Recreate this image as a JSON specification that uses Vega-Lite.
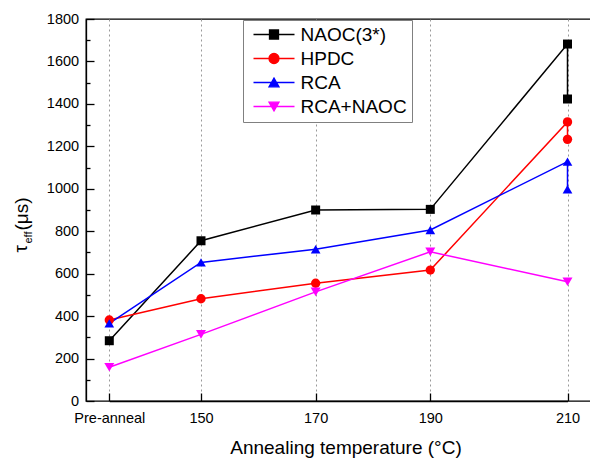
{
  "$schema": "https://vega.github.io/schema/vega-lite/v6.json",
  "autosize": "none",
  "padding": {"left": 86, "top": 19, "right": 0, "bottom": 63},
  "width": 505,
  "height": 382,
  "config": {
    "font": "Liberation Sans",
    "view": {"stroke": "#000", "strokeWidth": 1.3},
    "axis": {"labelFont": "Liberation Sans", "titleFont": "Liberation Sans", "labelColor": "#000", "titleColor": "#000", "titleFontWeight": "normal", "labelFontWeight": "normal"},
    "legend": {
      "title": null,
      "orient": "none",
      "legendX": 157,
      "legendY": 1,
      "strokeColor": "#808080",
      "fillColor": "#ffffff",
      "padding": 5,
      "labelFontSize": 19,
      "labelFont": "Liberation Sans",
      "labelColor": "#000",
      "labelOffset": 33.5,
      "rowPadding": 4,
      "symbolSize": 100,
      "symbolOpacity": 1,
      "symbolStrokeWidth": 1.3
    }
  },
  "data": {
    "values": [
      {"series": "NAOC(3*)", "stage": "Pre-anneal", "temp": 25, "tau": 284},
      {"series": "NAOC(3*)", "stage": "150", "temp": 150, "tau": 755},
      {"series": "NAOC(3*)", "stage": "170", "temp": 170, "tau": 900},
      {"series": "NAOC(3*)", "stage": "190", "temp": 190, "tau": 903},
      {"series": "NAOC(3*)", "stage": "210", "temp": 210, "tau": 1682},
      {"series": "NAOC(3*)", "stage": "210", "temp": 210, "tau": 1423},
      {"series": "HPDC", "stage": "Pre-anneal", "temp": 25, "tau": 382},
      {"series": "HPDC", "stage": "150", "temp": 150, "tau": 482},
      {"series": "HPDC", "stage": "170", "temp": 170, "tau": 555},
      {"series": "HPDC", "stage": "190", "temp": 190, "tau": 617},
      {"series": "HPDC", "stage": "210", "temp": 210, "tau": 1315},
      {"series": "HPDC", "stage": "210", "temp": 210, "tau": 1233},
      {"series": "RCA", "stage": "Pre-anneal", "temp": 25, "tau": 366},
      {"series": "RCA", "stage": "150", "temp": 150, "tau": 653},
      {"series": "RCA", "stage": "170", "temp": 170, "tau": 715},
      {"series": "RCA", "stage": "190", "temp": 190, "tau": 806},
      {"series": "RCA", "stage": "210", "temp": 210, "tau": 1128},
      {"series": "RCA", "stage": "210", "temp": 210, "tau": 998},
      {"series": "RCA+NAOC", "stage": "Pre-anneal", "temp": 25, "tau": 159},
      {"series": "RCA+NAOC", "stage": "150", "temp": 150, "tau": 314},
      {"series": "RCA+NAOC", "stage": "170", "temp": 170, "tau": 514},
      {"series": "RCA+NAOC", "stage": "190", "temp": 190, "tau": 703},
      {"series": "RCA+NAOC", "stage": "210", "temp": 210, "tau": 562}
    ]
  },
  "encoding": {
    "x": {
      "field": "temp",
      "type": "quantitative",
      "scale": {"domain": [25, 150, 190, 210], "range": [23.3, 115, 344.3, 481.5], "nice": false, "zero": false},
      "axis": {
        "values": [25, 150, 170, 190, 210],
        "labelExpr": "datum.value == 25 ? 'Pre-anneal' : datum.label",
        "labelFontSize": 14.5,
        "labelFontWeight": "normal",
        "labelBaseline": "alphabetic",
        "labelPadding": 29,
        "labelFlush": false,
        "labelOverlap": false,
        "tickSize": -8,
        "tickColor": "#000",
        "tickWidth": 1.3,
        "domainColor": "#000",
        "domainWidth": 1.3,
        "grid": true,
        "gridDash": [2, 3],
        "gridColor": "#999",
        "gridWidth": 1,
        "title": "Annealing temperature (°C)",
        "titleFontSize": 19,
        "titleX": 259.5,
        "titleY": 52,
        "titleBaseline": "alphabetic",
        "titleAlign": "center"
      }
    }
  },
  "layer": [
    {
      "mark": {"type": "line", "strokeWidth": 1.5},
      "encoding": {
        "y": {
          "field": "tau",
          "type": "quantitative",
          "scale": {"domain": [0, 1800], "nice": false},
          "axis": {
            "orient": "left",
            "values": [0, 200, 400, 600, 800, 1000, 1200, 1400, 1600, 1800],
            "format": "d",
            "labelFontSize": 14.5,
            "labelFontWeight": "normal",
            "labelPadding": 15.4,
            "tickSize": -8,
            "tickColor": "#000",
            "tickWidth": 1.3,
            "domainColor": "#000",
            "domainWidth": 1.3,
            "grid": false,
            "title": "τ",
            "titleFontSize": 19,
            "titleAngle": -90,
            "titleAlign": "left",
            "titleBaseline": "alphabetic",
            "titleX": -60,
            "titleY": 233
          }
        },
        "color": {
          "field": "series",
          "type": "nominal",
          "scale": {"domain": ["NAOC(3*)", "HPDC", "RCA", "RCA+NAOC"], "range": ["#000000", "#FF0000", "#0000FF", "#FF00FF"]},
          "legend": null
        },
        "order": {"value": null}
      }
    },
    {
      "mark": {"type": "point", "filled": true, "opacity": 1},
      "encoding": {
        "y": {
          "field": "tau",
          "type": "quantitative",
          "scale": {"domain": [0, 1800], "nice": false},
          "axis": {
            "orient": "left",
            "values": [100, 300, 500, 700, 900, 1100, 1300, 1500, 1700],
            "labels": false,
            "domain": false,
            "tickSize": -4,
            "tickColor": "#000",
            "tickWidth": 1.3,
            "grid": false,
            "title": "eff",
            "titleFontSize": 11,
            "titleAngle": -90,
            "titleAlign": "left",
            "titleBaseline": "alphabetic",
            "titleX": -54.7,
            "titleY": 224
          }
        },
        "color": {
          "field": "series",
          "type": "nominal",
          "scale": {"domain": ["NAOC(3*)", "HPDC", "RCA", "RCA+NAOC"], "range": ["#000000", "#FF0000", "#0000FF", "#FF00FF"]},
          "legend": null
        },
        "shape": {
          "field": "series",
          "type": "nominal",
          "scale": {"domain": ["NAOC(3*)", "HPDC", "RCA", "RCA+NAOC"], "range": ["square", "circle", "triangle-up", "triangle-down"]},
          "legend": null
        },
        "size": {
          "field": "series",
          "type": "nominal",
          "scale": {"domain": ["NAOC(3*)", "HPDC", "RCA", "RCA+NAOC"], "range": [81, 100, 100, 100]},
          "legend": null
        }
      }
    },
    {
      "mark": {"type": "point", "filled": true, "opacity": 0},
      "encoding": {
        "y": {
          "field": "tau",
          "type": "quantitative",
          "scale": {"domain": [0, 1800], "nice": false},
          "axis": {
            "orient": "left",
            "labels": false,
            "domain": false,
            "ticks": false,
            "grid": false,
            "title": "(μs)",
            "titleFontSize": 19,
            "titleAngle": -90,
            "titleAlign": "left",
            "titleBaseline": "alphabetic",
            "titleX": -58.2,
            "titleY": 211
          }
        },
        "shape": {
          "field": "series",
          "type": "nominal",
          "scale": {
            "domain": ["NAOC(3*)", "HPDC", "RCA", "RCA+NAOC"],
            "range": [
              "M-0.8,0H7.4M2.4,-0.9H4.2V0.9H2.4Z",
              "M-0.8,0H7.4M2.3,0A1,1 0 1,0 4.3,0A1,1 0 1,0 2.3,0Z",
              "M-0.8,0H7.4M3.3,-0.866L2.3,0.866L4.3,0.866Z",
              "M-0.8,0H7.4M3.3,0.866L2.3,-0.866L4.3,-0.866Z"
            ]
          },
          "legend": {"title": null}
        },
        "fill": {
          "field": "series",
          "type": "nominal",
          "scale": {"domain": ["NAOC(3*)", "HPDC", "RCA", "RCA+NAOC"], "range": ["#000000", "#FF0000", "#0000FF", "#FF00FF"]},
          "legend": {"title": null}
        },
        "stroke": {
          "field": "series",
          "type": "nominal",
          "scale": {"domain": ["NAOC(3*)", "HPDC", "RCA", "RCA+NAOC"], "range": ["#000000", "#FF0000", "#0000FF", "#FF00FF"]},
          "legend": {"title": null}
        }
      }
    }
  ],
  "resolve": {"axis": {"y": "independent"}, "scale": {"shape": "independent", "fill": "independent", "stroke": "independent"}}
}
